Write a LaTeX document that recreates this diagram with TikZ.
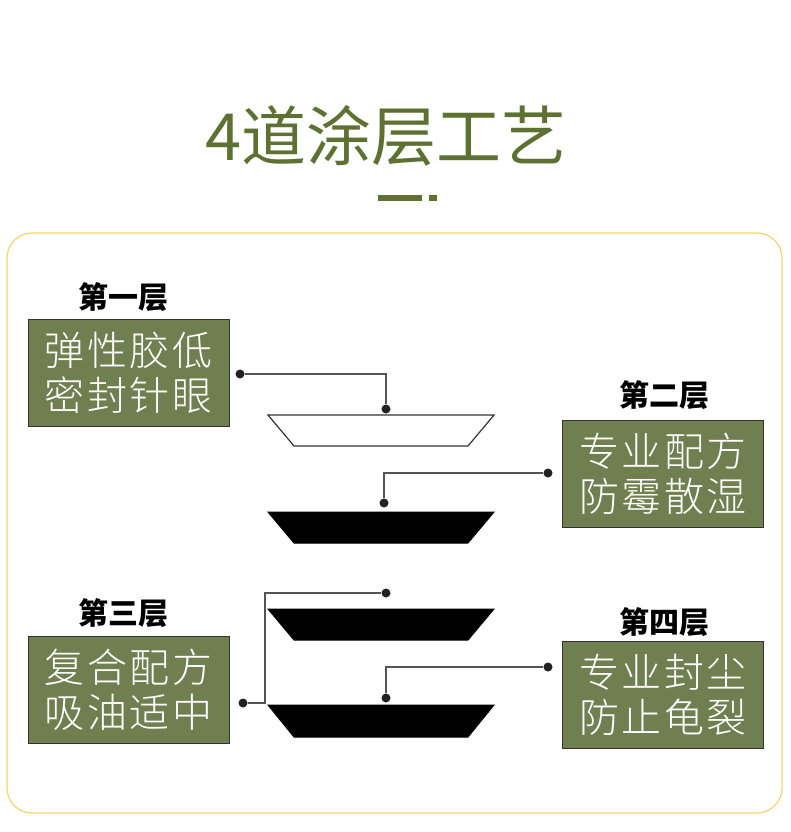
\documentclass[tikz,border=0pt]{standalone}
\usepackage{fontspec}
\setmainfont{Noto Sans CJK SC}
\newfontfamily\cjkthin{Noto Sans CJK SC Light}
\definecolor{titlegreen}{RGB}{94,112,50}
\definecolor{boxgreen}{RGB}{111,127,80}
\definecolor{frameyellow}{RGB}{247,213,110}
\definecolor{linegray}{RGB}{85,85,85}
\definecolor{dotc}{RGB}{34,34,34}
\newcommand\gp{\hspace{2.5pt}}
\tikzset{
  conn/.style={draw=linegray, line width=1.6pt},
  dotn/.style={circle, fill=dotc, inner sep=0pt, minimum size=9pt},
  gbox/.style={draw=black!80, fill=boxgreen, line width=0.8pt, minimum width=201pt, minimum height=107pt, inner sep=0pt,
    text=white, align=center, font=\cjkthin\fontsize{40}{45}\selectfont},
  lbl/.style={font=\fontsize{30}{32}\selectfont\bfseries, inner sep=0pt},
  traptop/.style={draw=black!80, fill=white, line width=1.2pt},
  trapblk/.style={draw=black, fill=black, line width=1pt}
}
\begin{document}
\begin{tikzpicture}[x=1pt,y=-1pt]
\useasboundingbox (0,0) rectangle (790,832);
\fill[white] (0,0) rectangle (790,832);
% title
\node[text=titlegreen, font=\fontsize{65}{70}\selectfont, inner sep=0pt] (title) at (386,136) {4道涂层工艺};
\fill[titlegreen] (378,195) rectangle (422,201);
\fill[titlegreen] (429,195) rectangle (437,201);
% frame
\draw[frameyellow, line width=1.2pt, rounded corners=25pt] (7,233) rectangle (782,813);
% boxes
\node[gbox] (b1) at (128.5,373) {弹\gp{}性\gp{}胶\gp{}低\\密\gp{}封\gp{}针\gp{}眼};
\node[gbox] (b2) at (663,474) {专\gp{}业\gp{}配\gp{}方\\防\gp{}霉\gp{}散\gp{}湿};
\node[gbox] (b3) at (128.5,690) {复\gp{}合\gp{}配\gp{}方\\吸\gp{}油\gp{}适\gp{}中};
\node[gbox] (b4) at (663,695) {专\gp{}业\gp{}封\gp{}尘\\防\gp{}止\gp{}龟\gp{}裂};
% labels
\node[lbl] (l1) at (123,297) {第一层};
\node[lbl] (l2) at (664,395) {第二层};
\node[lbl] (l3) at (123,613) {第三层};
\node[lbl] (l4) at (664,622) {第四层};
% trapezoids
\draw[traptop] (268,415) -- (494,415) -- (468,446) -- (294,446) -- cycle;
\draw[trapblk] (268,512) -- (494,512) -- (468,543) -- (294,543) -- cycle;
\draw[trapblk] (268,609) -- (494,609) -- (468,640) -- (294,640) -- cycle;
\draw[trapblk] (268,705) -- (494,705) -- (468,737) -- (294,737) -- cycle;
% dots
\node[dotn] (d1a) at (240,374) {};
\node[dotn] (d1b) at (386,409) {};
\node[dotn] (d2a) at (548,473) {};
\node[dotn] (d2b) at (384,503) {};
\node[dotn] (d3a) at (243,703) {};
\node[dotn] (d3b) at (386,593) {};
\node[dotn] (d4a) at (548,667) {};
\node[dotn] (d4b) at (386,698) {};
\coordinate (j3) at (265,703);
% connectors
\draw[conn] (d1a) -| (d1b);
\draw[conn] (d2a) -| (d2b);
\draw[conn] (d3a) -- (j3) |- (d3b);
\draw[conn] (d4a) -| (d4b);
\end{tikzpicture}
\end{document}
